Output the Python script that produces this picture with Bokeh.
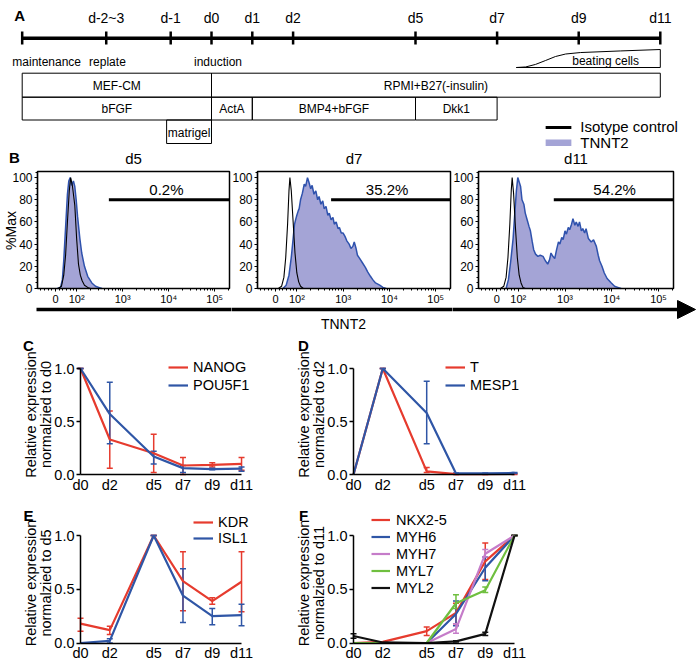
import math
from bokeh.plotting import figure
from bokeh.layouts import column, row
from bokeh.models import (Range1d, FixedTicker, SingleIntervalTicker, Label, Legend, LegendItem,
                          Whisker, TeeHead, ColumnDataSource, Arrow, NormalHead)
from bokeh.core.properties import value
from bokeh.embed import file_html
from bokeh.resources import INLINE

FONT = "Liberation Sans"
RED = "#e63b2e"
BLUE = "#2f56a6"
PURPLE = "#c57cc9"
GREEN = "#6fbf3f"
BLACK = "#111111"
HIST_FILL = "#a4a4d6"
HIST_LINE = "#2f52ad"

# ---------------- Panel A : protocol timeline ----------------
timeline_start = -4.64
timeline_end = 11.0
tick_days = [-2.58, -1, 0, 1, 2, 5, 7, 9, 11]
tick_labels = ["d-2~3", "d-1", "d0", "d1", "d2", "d5", "d7", "d9", "d11"]
stage_labels = ["maintenance", "replate", "induction"]
stage_days = [-4.04, -2.55, 0.16]
medium_names = ["MEF-CM", "RPMI+B27(-insulin)"]
medium_start = [-4.64, 0]
medium_end = [0, 11]
factor_names = ["bFGF", "ActA", "BMP4+bFGF", "Dkk1"]
factor_start = [-4.64, 0, 1, 5]
factor_end = [0, 1, 5, 7]
matrigel_name = ["matrigel"]
matrigel_start = [-1.1]
matrigel_end = [0]
beating_day = [7.47, 7.70, 7.94, 8.19, 8.43, 8.68, 9.04, 10.02, 11.0]
beating_level = [0, 0.03, 0.17, 0.39, 0.61, 0.75, 0.83, 0.92, 1.0]

# ---------------- Panel B : flow histograms ----------------
hist_titles = ["d5", "d7", "d11"]
gate_pct = ["0.2%", "35.2%", "54.2%"]
gate_start = [2.70, 2.74, 2.76]
gate_level = 80
gate_text_x = [3.95, 3.95, 4.06]
hist_tick_pos = [1.54, 2, 3, 4, 5]
hist_tick_labels = ["0", "10²", "10³", "10⁴", "10⁵"]

iso_d5 = [(1.60, 0), (1.67, 2), (1.72, 12), (1.76, 30), (1.80, 60), (1.84, 88), (1.87, 100),
          (1.91, 92), (1.96, 75), (2.00, 45), (2.04, 22), (2.08, 12), (2.12, 7), (2.17, 3),
          (2.24, 1), (2.30, 0)]
tnnt2_d5 = [(1.58, 0), (1.65, 1), (1.69, 8), (1.72, 25), (1.76, 55), (1.80, 85), (1.83, 97),
            (1.86, 100), (1.89, 93), (1.93, 97), (1.96, 92), (1.99, 80), (2.02, 65), (2.07, 45),
            (2.11, 32), (2.17, 20), (2.24, 11), (2.33, 5), (2.41, 2), (2.48, 1), (2.55, 0)]
iso_d7 = [(1.60, 0), (1.67, 2), (1.72, 10), (1.76, 28), (1.80, 58), (1.83, 88), (1.85, 100),
          (1.88, 88), (1.92, 60), (1.96, 32), (2.00, 14), (2.04, 6), (2.08, 2), (2.14, 0)]
tnnt2_d7 = [(1.70, 0), (1.77, 3), (1.83, 12), (1.88, 28), (1.92, 45), (1.95, 58), (1.98, 63),
            (2.00, 66), (2.03, 70), (2.05, 72), (2.08, 80), (2.12, 86), (2.16, 94), (2.19, 92),
            (2.23, 100), (2.26, 96), (2.30, 90), (2.33, 93), (2.37, 85), (2.41, 88), (2.45, 80),
            (2.48, 83), (2.52, 76), (2.56, 79), (2.59, 72), (2.63, 74), (2.67, 66), (2.70, 68),
            (2.74, 62), (2.78, 64), (2.81, 58), (2.85, 60), (2.89, 54), (2.92, 55), (2.96, 50),
            (3.00, 50), (3.04, 47), (3.08, 43), (3.13, 40), (3.17, 36), (3.21, 38), (3.24, 42),
            (3.28, 36), (3.31, 30), (3.36, 27), (3.42, 23), (3.48, 19), (3.53, 15), (3.59, 11),
            (3.64, 8), (3.70, 5), (3.79, 3), (3.86, 1), (3.93, 0)]
iso_d11 = [(1.62, 0), (1.69, 2), (1.74, 10), (1.78, 28), (1.82, 58), (1.85, 88), (1.87, 100),
           (1.90, 86), (1.94, 55), (1.98, 28), (2.02, 12), (2.06, 5), (2.10, 1), (2.15, 0)]
tnnt2_d11 = [(1.74, 0), (1.79, 8), (1.84, 25), (1.89, 45), (1.93, 70), (1.96, 88), (1.99, 100),
             (2.02, 96), (2.05, 92), (2.08, 80), (2.12, 76), (2.15, 68), (2.19, 62), (2.23, 56),
             (2.26, 52), (2.30, 42), (2.33, 35), (2.37, 31), (2.42, 29), (2.47, 30), (2.53, 29),
             (2.58, 25), (2.63, 22), (2.67, 26), (2.70, 32), (2.74, 29), (2.78, 27), (2.82, 35),
             (2.86, 42), (2.89, 40), (2.93, 46), (2.96, 44), (3.00, 52), (3.03, 49), (3.07, 55),
             (3.10, 53), (3.14, 58), (3.17, 63), (3.21, 57), (3.24, 60), (3.28, 56), (3.31, 60),
             (3.35, 52), (3.38, 54), (3.42, 50), (3.45, 54), (3.50, 45), (3.56, 42), (3.61, 44),
             (3.67, 38), (3.71, 30), (3.74, 25), (3.79, 20), (3.84, 14), (3.90, 9), (3.99, 5),
             (4.06, 2), (4.13, 1), (4.20, 0)]

# ---------------- Panels C-F : qPCR time courses ----------------
days = [0, 2, 5, 7, 9, 11]
day_labels = ["d0", "d2", "d5", "d7", "d9", "d11"]
y_ticks = [0, 0.5, 1.0]
y_tick_labels = ["0.0", "0.5", "1.0"]

NANOG = [1.0, 0.33, 0.20, 0.085, 0.09, 0.10]
NANOG_lo = [1.0, 0.06, 0.02, 0.0, 0.07, 0.04]
NANOG_hi = [1.0, 0.60, 0.38, 0.16, 0.11, 0.16]
POU5F1 = [1.0, 0.57, 0.17, 0.06, 0.05, 0.055]
POU5F1_lo = [1.0, 0.29, 0.10, 0.02, 0.045, 0.03]
POU5F1_hi = [1.0, 0.87, 0.22, 0.085, 0.06, 0.07]

T = [0.0, 1.0, 0.03, 0.003, 0.003, 0.005]
T_lo = [0.0, 1.0, 0.02, 0.0, 0.0, 0.0]
T_hi = [0.0, 1.0, 0.065, 0.005, 0.005, 0.01]
MESP1 = [0.0, 1.0, 0.58, 0.01, 0.01, 0.015]
MESP1_lo = [0.0, 1.0, 0.29, 0.005, 0.005, 0.01]
MESP1_hi = [0.0, 1.0, 0.88, 0.015, 0.015, 0.02]

KDR = [0.18, 0.12, 1.0, 0.575, 0.39, 0.57]
KDR_lo = [0.11, 0.08, 1.0, 0.30, 0.36, 0.29]
KDR_hi = [0.23, 0.155, 1.0, 0.85, 0.42, 0.85]
ISL1 = [0.0, 0.02, 1.0, 0.44, 0.25, 0.26]
ISL1_lo = [0.0, 0.0, 1.0, 0.19, 0.17, 0.16]
ISL1_hi = [0.0, 0.04, 1.0, 0.69, 0.32, 0.36]

NKX2_5 = [0.0, 0.01, 0.11, 0.28, 0.76, 1.0]
NKX2_5_lo = [0.0, 0.01, 0.07, 0.18, 0.59, 1.0]
NKX2_5_hi = [0.0, 0.01, 0.15, 0.37, 0.93, 1.0]
MYH6 = [0.0, 0.0, 0.0, 0.27, 0.70, 1.0]
MYH6_lo = [0.0, 0.0, 0.0, 0.16, 0.58, 1.0]
MYH6_hi = [0.0, 0.0, 0.0, 0.39, 0.80, 1.0]
MYH7 = [0.0, 0.0, 0.0, 0.13, 0.83, 1.0]
MYH7_lo = [0.0, 0.0, 0.0, 0.09, 0.80, 1.0]
MYH7_hi = [0.0, 0.0, 0.0, 0.18, 0.87, 1.0]
MYL7 = [0.0, 0.0, 0.0, 0.37, 0.49, 1.0]
MYL7_lo = [0.0, 0.0, 0.0, 0.32, 0.47, 1.0]
MYL7_hi = [0.0, 0.0, 0.0, 0.45, 0.52, 1.0]
MYL2 = [0.065, 0.005, 0.0, 0.015, 0.085, 1.0]
MYL2_lo = [0.045, 0.0, 0.0, 0.01, 0.07, 1.0]
MYL2_hi = [0.085, 0.01, 0.0, 0.02, 0.10, 1.0]


def txt(p, x, y, text, size, align="center", style="normal"):
    p.text(x=x, y=y, text=text, text_align=align, text_baseline="middle",
           text_font=value(FONT), text_font_size=size, text_font_style=style, text_color="black")


def lab(p, x, y, text, size, angle=0.0, style="normal", align="center"):
    p.add_layout(Label(x=x, y=y, x_units="screen", y_units="screen", text=text, angle=angle,
                       text_align=align, text_baseline="middle", text_font=FONT,
                       text_font_size=size, text_font_style=style, text_color="black"))


def base_fig(w, h, xr, yr):
    p = figure(width=w, height=h, x_range=Range1d(*xr), y_range=Range1d(*yr),
               output_backend="svg", toolbar_location=None, min_border=0)
    p.title.visible = False
    p.grid.visible = False
    p.outline_line_color = None
    return p


# ================= Panel A figure =================
PX_DAY = 40.8
pA = base_fig(700, 150, (-211 / PX_DAY, 489 / PX_DAY), (150, 0))
pA.axis.visible = False

pA.line([timeline_start, timeline_end], [37.7, 37.7], line_width=3.5, line_color="black")
all_ticks = [timeline_start] + tick_days
pA.segment(x0=all_ticks, y0=[31] * len(all_ticks), x1=all_ticks, y1=[44] * len(all_ticks),
           line_width=2.5, line_color="black")
txt(pA, tick_days, [17] * len(tick_days), tick_labels, "14px")
txt(pA, stage_days, [61] * len(stage_days), stage_labels, "12px")
txt(pA, [-4.70], [15], ["A"], "15px", style="bold")

pA.quad(left=medium_start, right=medium_end, top=[72.7] * 2, bottom=[96.7] * 2,
        fill_color=None, line_color="black", line_width=1)
txt(pA, [(a + b) / 2 for a, b in zip(medium_start, medium_end)], [85] * 2, medium_names, "12px")
pA.quad(left=factor_start, right=factor_end, top=[96.7] * 4, bottom=[119.5] * 4,
        fill_color=None, line_color="black", line_width=1)
txt(pA, [(a + b) / 2 for a, b in zip(factor_start, factor_end)], [108] * 4, factor_names, "12px")
pA.quad(left=matrigel_start, right=matrigel_end, top=[119.5], bottom=[143],
        fill_color=None, line_color="black", line_width=1)
txt(pA, [(matrigel_start[0] + matrigel_end[0]) / 2], [132], matrigel_name, "12px")

pA.line(beating_day, [67 - 18 * v for v in beating_level], line_color="black", line_width=1)
pA.line([beating_day[0], beating_day[-1], beating_day[-1]], [67, 67, 49], line_color="black",
        line_width=1)
txt(pA, [9.66], [60], ["beating cells"], "12px")

# legend for panel B histograms
pA.line([8.19, 8.82], [127, 127], line_color="black", line_width=3)
txt(pA, [9.04], [126], ["Isotype control"], "15px", align="left")
pA.quad(left=[8.19], right=[8.82], top=[139], bottom=[145.5], fill_color=HIST_FILL, line_color=None)
txt(pA, [9.04], [142], ["TNNT2"], "15px", align="left")

# ================= Panel B figures =================
hx_minor = ([1.22, 1.30, 1.38, 1.46, 1.62, 1.70, 1.78, 1.86, 1.93]
            + [d + math.log10(k) for d in (2, 3, 4) for k in range(2, 10)] + [5 + math.log10(2)])
HX0, HX1 = 1.15, 5.32
HY1 = 105.5
HH = 180          # figure height
PLOT_TOP = 21     # px from canvas top to histogram box top
PLOT_H = 117      # histogram box height in px
hist_data = [(iso_d5, tnnt2_d5), (iso_d7, tnnt2_d7), (iso_d11, tnnt2_d11)]
hist_geom = [(231, 37, 192), (221, 26, 193), (248, 26, 195)]
hist_figs = []
for i, ((iso, tn), (w, bl, fw)) in enumerate(zip(hist_data, hist_geom)):
    ppx = fw / (HX1 - HX0)
    ppy = PLOT_H / HY1
    bot = HH - PLOT_TOP - PLOT_H
    p = base_fig(w, HH, (HX0 - bl / ppx, HX0 + (w - bl) / ppx), (-bot / ppy, (HH - bot) / ppy))
    p.xaxis.fixed_location = 0
    p.yaxis.fixed_location = HX0
    p.xaxis.bounds = (HX0, HX1)
    p.yaxis.bounds = (0, HY1)
    p.xaxis.ticker = FixedTicker(ticks=hist_tick_pos, minor_ticks=hx_minor)
    p.xaxis.major_label_overrides = dict(zip(hist_tick_pos, hist_tick_labels))
    p.yaxis.ticker = SingleIntervalTicker(interval=20, num_minor_ticks=4)
    for ax in (p.xaxis, p.yaxis):
        ax.major_tick_out = 3
        ax.major_tick_in = 0
        ax.minor_tick_out = 2
        ax.minor_tick_in = 0
        ax.axis_line_width = 1.2
        ax.major_tick_line_width = 1
        ax.major_label_text_font = FONT
        ax.major_label_text_color = "black"
    p.xaxis.major_label_text_font_size = "11px"
    p.xaxis.major_label_standoff = 1
    p.yaxis.major_label_text_font_size = "12px"
    p.yaxis.major_label_standoff = 2

    tx = [a for a, b in tn]
    ty = [b for a, b in tn]
    ix = [a for a, b in iso]
    iy = [b for a, b in iso]
    p.varea(x=tx, y1=[0] * len(tx), y2=ty, fill_color=HIST_FILL)
    p.line(tx, ty, line_color=HIST_LINE, line_width=1.5)
    p.line(ix, iy, line_color="black", line_width=1.1)
    p.segment(x0=[gate_start[i]], y0=[gate_level], x1=[HX1], y1=[gate_level],
              line_color="black", line_width=3)
    txt(p, [gate_text_x[i]], [89], [gate_pct[i]], "15px")
    p.quad(left=[HX0], right=[HX1], bottom=[0], top=[HY1], fill_color=None,
           line_color="black", line_width=1.5)
    lab(p, bl + fw / 2, HH - 8, hist_titles[i], "15px")

    # shared TNNT2 axis arrow (drawn across the three canvases)
    ay = -21 / ppy
    if i == 0:
        lab(p, 14, HH - 7, "B", "15px", style="bold")
        lab(p, 10, HH - 80, "%Max", "14px", angle=math.pi / 2)
        p.add_layout(Arrow(end=None, x_start=HX0 - 1 / ppx, y_start=ay, x_end=HX0 + 260 / ppx,
                           y_end=ay, line_width=3.5, line_color="black"))
    elif i == 1:
        p.add_layout(Arrow(end=None, x_start=HX0 - 40 / ppx, y_start=ay, x_end=HX0 + 240 / ppx,
                           y_end=ay, line_width=3.5, line_color="black"))
        lab(p, 112, 7, "TNNT2", "14px")
    else:
        p.add_layout(Arrow(end=NormalHead(size=18, fill_color="black", line_color="black"),
                           x_start=HX0 - 40 / ppx, y_start=ay, x_end=HX0 + 217 / ppx,
                           y_end=ay, line_width=3.5, line_color="black"))
    hist_figs.append(p)


# ================= Panels C-F =================
PPX = 14.64   # px per day


def line_fig(width, height, zb, ppy, series, ylab, letter, letter_x, leg_loc, row_h,
             glyph_w, standoff):
    p = base_fig(width, height, (-80 / PPX, (width - 80) / PPX), (-zb / ppy, (height - zb) / ppy))
    p.xaxis.fixed_location = 0
    p.yaxis.fixed_location = 0
    p.xaxis.ticker = FixedTicker(ticks=days)
    p.xaxis.major_label_overrides = dict(zip(days, day_labels))
    p.yaxis.ticker = FixedTicker(ticks=y_ticks)
    p.yaxis.major_label_overrides = dict(zip(y_ticks, y_tick_labels))
    p.xaxis.bounds = (0, 11)
    p.yaxis.bounds = (0, 1)
    for ax in (p.xaxis, p.yaxis):
        ax.axis_line_width = 1.5
        ax.axis_line_color = "black"
        ax.major_tick_in = 0
        ax.minor_tick_line_color = None
        ax.major_label_text_font = FONT
        ax.major_label_text_font_size = "14.5px"
        ax.major_label_text_color = "black"
        ax.major_label_standoff = 2
    p.xaxis.major_tick_out = 0
    p.xaxis.major_tick_line_color = None
    p.yaxis.major_tick_out = 4
    p.yaxis.major_tick_line_width = 1.5

    items = []
    for name, ys, lo, hi, col in series:
        r = p.line(days, ys, line_color=col, line_width=2.2)
        keep = [k for k in range(len(days)) if hi[k] > lo[k] or ys[k] >= 1.0]
        src = ColumnDataSource(dict(x=[days[k] for k in keep], lo=[lo[k] for k in keep],
                                    hi=[hi[k] for k in keep]))
        p.add_layout(Whisker(source=src, base="x", lower="lo", upper="hi", line_color=col,
                             line_width=1.5,
                             upper_head=TeeHead(size=6, line_color=col, line_width=1.5),
                             lower_head=TeeHead(size=6, line_color=col, line_width=1.5)))
        items.append(LegendItem(label=name, renderers=[r]))
    leg = Legend(items=items, location=leg_loc, glyph_width=glyph_w, glyph_height=row_h,
                 label_height=row_h, label_standoff=standoff, spacing=0, padding=0, margin=0,
                 border_line_color=None, background_fill_alpha=0, label_text_font=FONT,
                 label_text_font_size="14.5px", label_text_color="black")
    p.add_layout(leg)
    lab(p, letter_x, height - 15, letter, "15px", style="bold")
    lab(p, 30, zb + 60, "Relative expression", "14.5px", angle=math.pi / 2)
    lab(p, 45, zb + 60, ylab, "14.5px", angle=math.pi / 2)
    return p


pC = line_fig(273, 170, 26, 106,
              [("NANOG", NANOG, NANOG_lo, NANOG_hi, RED),
               ("POU5F1", POU5F1, POU5F1_lo, POU5F1_hi, BLUE)],
              "normalzied to d0", "C", 28, (168, 106), 18, 20, 5)
pD = line_fig(427, 170, 26, 106,
              [("T", T, T_lo, T_hi, RED),
               ("MESP1", MESP1, MESP1_lo, MESP1_hi, BLUE)],
              "normalzied to d2", "D", 30, (172, 106), 18, 20, 5)
pE = line_fig(273, 165, 22.5, 107.5,
              [("KDR", KDR, KDR_lo, KDR_hi, RED),
               ("ISL1", ISL1, ISL1_lo, ISL1_hi, BLUE)],
              "normalzied to d5", "E", 28, (193, 119), 16, 20, 5)
pF = line_fig(427, 165, 22.5, 107.5,
              [("NKX2-5", NKX2_5, NKX2_5_lo, NKX2_5_hi, RED),
               ("MYH6", MYH6, MYH6_lo, MYH6_hi, BLUE),
               ("MYH7", MYH7, MYH7_lo, MYH7_hi, PURPLE),
               ("MYL7", MYL7, MYL7_lo, MYL7_hi, GREEN),
               ("MYL2", MYL2, MYL2_lo, MYL2_hi, BLACK)],
              "normalzied to d11", "F", 30, (98, 69), 17, 19, 6)

layout = column(pA, row(*hist_figs), row(pC, pD), row(pE, pF))
open("out.html", "w").write(file_html(layout, INLINE))
